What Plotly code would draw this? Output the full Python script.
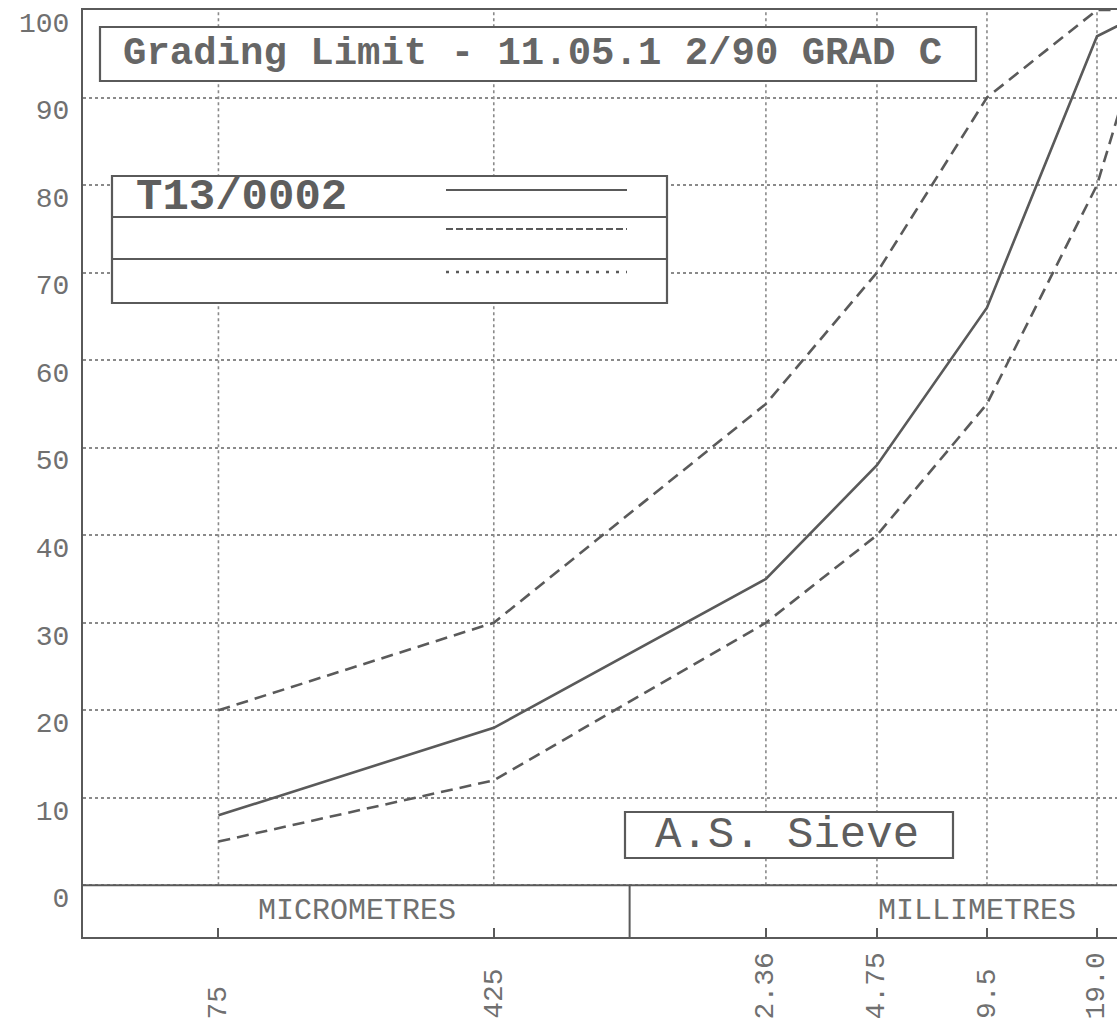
import numpy as np
import plotly.graph_objects as go

# ---------------- data ----------------
sieve_mm = [0.075, 0.425, 2.36, 4.75, 9.5, 19.0, 26.5]
sieve_labels = ["75", "425", "2.36", "4.75", "9.5", "19.0"]
sample_T13 = [8, 18, 35, 48, 66, 97, 100]
limit_upper = [20, 30, 55, 70, 90, 100, 100]
limit_lower = [5, 12, 30, 40, 55, 80, 100]
y_ticks = [0, 10, 20, 30, 40, 50, 60, 70, 80, 90, 100]
title_text = "Grading Limit - 11.05.1 2/90 GRAD C"
legend_label = "T13/0002"
sieve_box_text = "A.S. Sieve"
unit_labels = ["MICROMETRES", "MILLIMETRES"]

# ---------------- geometry ----------------
W, H = 1117, 1023
ML, MR, MT, MB = 83, 0, 10, 86
PW, PH = W - ML - MR, H - MT - MB
X_RANGE = [-1.4955, 1.3335]   # log10(mm)
Y_RANGE = [-5.9, 100]

LINE = "#5a5a5a"
TXT = "#707070"
GRID = "#8a8a8a"
MONO = "Liberation Mono, DejaVu Sans Mono, monospace"


def px(x):
    return (x - ML) / PW


def py(y):
    return (H - MB - y) / PH


fig = go.Figure()

fig.add_trace(go.Scatter(x=sieve_mm, y=sample_T13, mode="lines", name=legend_label,
                         line=dict(color=LINE, width=2.6)))
fig.add_trace(go.Scatter(x=sieve_mm, y=limit_upper, mode="lines", name="upper",
                         line=dict(color=LINE, width=2.6, dash="12px,7px")))
fig.add_trace(go.Scatter(x=sieve_mm, y=limit_lower, mode="lines", name="lower",
                         line=dict(color=LINE, width=2.6, dash="12px,7px")))

shapes = []
# vertical dotted grid at the sieve sizes (from 0 % to 100 %)
for v in sieve_mm[:-1]:
    shapes.append(dict(type="line", xref="x", yref="y", x0=v, x1=v, y0=0, y1=100,
                       line=dict(color=GRID, width=1.6, dash="dot"), layer="below"))
# zero line of the strip
shapes.append(dict(type="line", xref="paper", yref="y", x0=0, x1=1, y0=0, y1=0,
                   line=dict(color=LINE, width=2), layer="above"))
# divider micrometres / millimetres at 1 mm
shapes.append(dict(type="line", xref="x", yref="y", x0=1.0, x1=1.0, y0=Y_RANGE[0], y1=0,
                   line=dict(color=LINE, width=2), layer="above"))

# title box
shapes.append(dict(type="rect", xref="paper", yref="paper", x0=px(100), x1=px(976),
                   y0=py(81), y1=py(27), fillcolor="white", line=dict(color=LINE, width=2.2),
                   layer="above"))
# legend table
shapes.append(dict(type="rect", xref="paper", yref="paper", x0=px(112), x1=px(667),
                   y0=py(303), y1=py(176), fillcolor="white", line=dict(color=LINE, width=2.2),
                   layer="above"))
for yy in (217, 259):
    shapes.append(dict(type="line", xref="paper", yref="paper", x0=px(112), x1=px(667),
                       y0=py(yy), y1=py(yy), line=dict(color=LINE, width=2.2), layer="above"))
for yy, dash, wdt in ((190, "solid", 2.2), (229, "7px,3px", 2.2), (272, "3px,7px", 2.6)):
    shapes.append(dict(type="line", xref="paper", yref="paper", x0=px(446), x1=px(627),
                       y0=py(yy), y1=py(yy), line=dict(color=LINE, width=wdt, dash=dash),
                       layer="above"))
# A.S. Sieve box
shapes.append(dict(type="rect", xref="paper", yref="paper", x0=px(625), x1=px(953),
                   y0=py(858), y1=py(812), fillcolor="white", line=dict(color=LINE, width=2.2),
                   layer="above"))

annotations = []
annotations.append(dict(text=title_text, xref="paper", yref="paper", x=px(532), y=py(54),
                        showarrow=False, xanchor="center", yanchor="middle",
                        font=dict(family=MONO, size=39, color="#666666", weight="bold")))
annotations.append(dict(text=legend_label, xref="paper", yref="paper", x=px(134), y=py(197),
                        showarrow=False, xanchor="left", yanchor="middle",
                        font=dict(family=MONO, size=44, color="#5e5e5e", weight="bold")))
annotations.append(dict(text=sieve_box_text, xref="paper", yref="paper", x=px(787), y=py(835),
                        showarrow=False, xanchor="center", yanchor="middle",
                        font=dict(family=MONO, size=44, color="#5e5e5e")))
for lab, xc in zip(unit_labels, (357, 977)):
    annotations.append(dict(text=lab, xref="paper", yref="paper", x=px(xc), y=py(911),
                            showarrow=False, xanchor="center", yanchor="middle",
                            font=dict(family=MONO, size=30, color=TXT)))
for v, lab in zip(sieve_mm, sieve_labels):
    annotations.append(dict(text=lab, xref="x", yref="paper", x=float(np.log10(v)), y=py(1021),
                            showarrow=False, xanchor="center", yanchor="bottom", textangle=-90,
                            font=dict(family=MONO, size=28, color=TXT)))

fig.update_layout(
    width=W, height=H,
    margin=dict(l=ML, r=MR, t=MT, b=MB, pad=0),
    paper_bgcolor="white", plot_bgcolor="white",
    showlegend=False,
    shapes=shapes, annotations=annotations,
    xaxis=dict(type="log", range=X_RANGE, tickvals=sieve_mm[:-1], showticklabels=False,
               ticks="inside", ticklen=9, tickwidth=2, tickcolor=LINE,
               showgrid=False,
               showline=True, linecolor=LINE, linewidth=2.2, mirror=True, zeroline=False),
    yaxis=dict(range=Y_RANGE, tickvals=y_ticks, ticks="", showgrid=True, gridcolor=GRID,
               gridwidth=1.6, griddash="dot", zeroline=False,
               showline=True, linecolor=LINE, linewidth=2.2, mirror=False,
               ticklabelshift=12, ticklabelstandoff=6,
               tickfont=dict(family=MONO, size=28, color=TXT)),
)

fig.write_html("out.html", config={"displayModeBar": False},
               post_script="document.body.style.margin='0';document.body.style.overflow='hidden';")
